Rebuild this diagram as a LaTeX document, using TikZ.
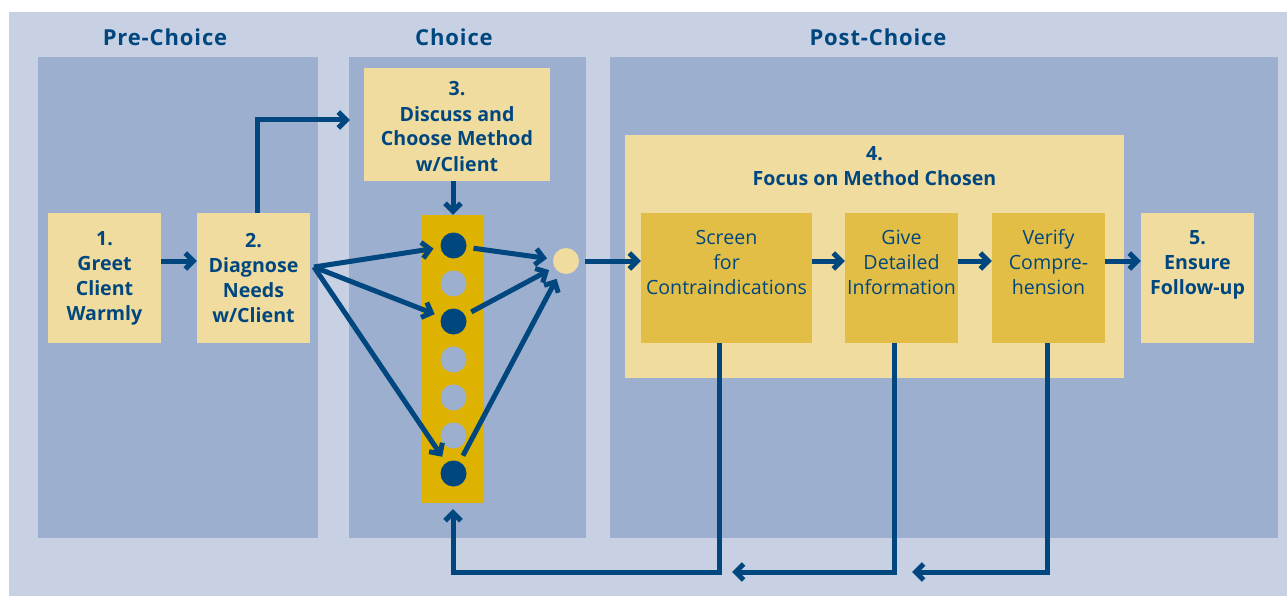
\documentclass[tikz,border=0pt]{standalone}
\usepackage{fontspec}
\setmainfont{Open Sans}
\newfontfamily\headfont[LetterSpace=4]{Open Sans}
\usetikzlibrary{arrows.meta}
\definecolor{outerbg}{HTML}{C8D1E3}
\definecolor{panelbg}{HTML}{9CAFCF}
\definecolor{lyel}{HTML}{F0DC9E}
\definecolor{goldbox}{HTML}{E3BE46}
\definecolor{colgold}{HTML}{DDB200}
\definecolor{dblue}{HTML}{00467F}
\tikzset{
  panel/.style={fill=panelbg, draw=none, inner sep=0pt},
  box/.style={fill=lyel, inner sep=0pt, minimum width=113pt, minimum height=130pt},
  subbox/.style={fill=goldbox, inner sep=0pt, minimum height=130pt},
  lbl/.style={text=dblue, align=center, inner sep=0pt, font=\fontsize{19.6}{25}\selectfont\bfseries},
  sublbl/.style={text=dblue, align=center, inner sep=0pt, font=\fontsize{19.6}{25}\selectfont},
  head/.style={text=dblue, inner sep=0pt, font=\headfont\fontsize{22}{26}\selectfont\bfseries},
  dot/.style={circle, inner sep=0pt, minimum size=26pt},
  arr/.style={draw=dblue, line width=5pt, -{Straight Barb[length=8pt,width=16pt]}},
}
\begin{document}
\begin{tikzpicture}[x=1pt,y=-1pt]
\useasboundingbox (0,0) rectangle (1287,596);
\fill[white] (0,0) rectangle (1287,596);
\fill[outerbg] (9,12) rectangle (1287,596);
% panels
\node[panel, minimum width=280pt, minimum height=481pt] (pre) at (178,297.5) {};
\node[panel, minimum width=237pt, minimum height=481pt] (cho) at (467.5,297.5) {};
\node[panel, minimum width=668pt, minimum height=481pt] (post) at (944,297.5) {};
% headers
\node[head] (hpre) at (165,37) {Pre-Choice};
\node[head] (hcho) at (454,37) {Choice};
\node[head] (hpost) at (878,37) {Post-Choice};
% boxes
\node[box, lbl] (b1) at (104.5,278) {1.\\Greet\\Client\\Warmly};
\node[box, lbl] (b2) at (253.5,278) {2.\\Diagnose\\Needs\\w/Client};
\node[box, minimum width=186pt, minimum height=113pt] (b3) at (457,124.5) {};
\node[lbl] (b3t) at (457,126.5) {3.\\Discuss and\\Choose Method\\w/Client};
% focus container
\node[fill=lyel, inner sep=0pt, minimum width=499pt, minimum height=243pt] (f4) at (874.5,256.5) {};
\node[lbl] (f4t) at (874.5,166) {4.\\Focus on Method Chosen};
\node[subbox, minimum width=171pt] (sc) at (726.5,278) {};
\node[sublbl] (sct) at (726.5,262) {Screen\\for\\Contraindications};
\node[subbox, minimum width=113pt] (gv) at (901.5,278) {};
\node[sublbl] (gvt) at (901.5,262) {Give\\Detailed\\Information};
\node[subbox, minimum width=113pt] (vf) at (1048.5,278) {};
\node[sublbl] (vft) at (1048.5,262) {Verify\\Compre-\\hension};
\node[box] (b5) at (1197.5,278) {};
\node[lbl] (b5t) at (1197.5,264.5) {5.\\Ensure\\Follow-up};
% column of options
\node[fill=colgold, inner sep=0pt, minimum width=62pt, minimum height=288pt] (col) at (453,359) {};
\node[dot, fill=dblue] (c1) at (453.5,245.5) {};
\node[dot, fill=panelbg] (c2) at (453.5,283.5) {};
\node[dot, fill=dblue] (c3) at (453.5,321.5) {};
\node[dot, fill=panelbg] (c4) at (453.5,359.5) {};
\node[dot, fill=panelbg] (c5) at (453.5,397.5) {};
\node[dot, fill=panelbg] (c6) at (453.5,435.5) {};
\node[dot, fill=dblue] (c7) at (453.5,473.5) {};
\node[dot, fill=lyel] (m) at (566,261) {};
% connectors
\coordinate (d2) at (314,267);
\draw[arr] ([yshift=17pt]b1.east) -- ([yshift=17pt]b2.west);
\draw[arr] ([xshift=4pt]b2.north) |- ([yshift=4.5pt,xshift=-14pt]b3.west);
\draw[arr] (b3.south -| col.north) -- (col.north);
\draw[arr, shorten >=7pt] (d2) -- (c1);
\draw[arr, shorten >=7pt] (d2) -- (c3);
\draw[arr, shorten >=7pt] (d2) -- (c7);
\draw[arr, shorten <=7pt, shorten >=6pt] (c1) -- (m);
\draw[arr, shorten <=7pt, shorten >=6pt] (c3) -- (m);
\draw[arr, shorten <=7pt, shorten >=7pt] (c7) -- (m);
\draw[arr, shorten <=6pt] (m) -- (m -| sc.west);
\draw[arr] ([yshift=17pt]sc.east) -- ([yshift=17pt]gv.west);
\draw[arr] ([yshift=17pt]gv.east) -- ([yshift=17pt]vf.west);
\draw[arr] ([yshift=17pt]vf.east) -- ([yshift=17pt]b5.west);
% feedback loops
\coordinate (r1) at (732,572);
\coordinate (r2) at (912,572);
\draw[arr] ([xshift=-7pt]sc.south) -- ++(0,229) -| ([yshift=-6pt]col.south);
\draw[arr] ([xshift=-7pt]gv.south) |- (r1);
\draw[arr] ([xshift=-1.5pt]vf.south) |- (r2);
\end{tikzpicture}
\end{document}
